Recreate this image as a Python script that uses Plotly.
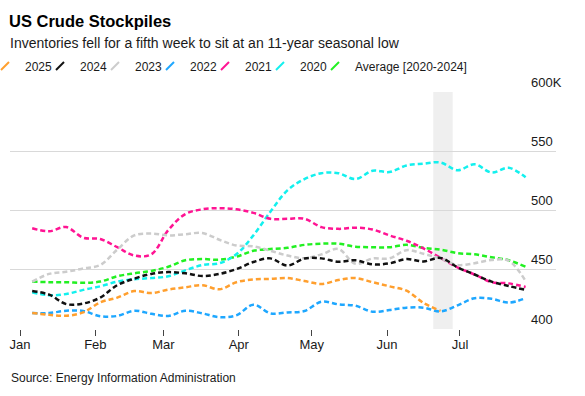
import plotly.graph_objects as go

# Weekly observation dates (seasonal axis, plotted on 2025 calendar)
weeks = ["2025-01-06", "2025-01-13", "2025-01-20", "2025-01-27", "2025-02-03", "2025-02-10",
         "2025-02-17", "2025-02-24", "2025-03-03", "2025-03-10", "2025-03-17", "2025-03-24",
         "2025-03-31", "2025-04-07", "2025-04-14", "2025-04-21", "2025-04-28", "2025-05-05",
         "2025-05-12", "2025-05-19", "2025-05-26", "2025-06-02", "2025-06-09", "2025-06-16",
         "2025-06-23", "2025-06-30", "2025-07-07", "2025-07-14", "2025-07-21", "2025-07-28"]

# US crude inventories (axis in K)
y2025 = [413.5, 412, 411.2, 414, 422.5, 426.5, 432, 430.3, 433.3, 435.2, 437, 433.5, 439.5,
         441.8, 442.3, 443, 440.5, 438, 441.3, 443, 439.5, 436, 432.3, 422, 415.3]
y2024 = [432, 429, 421, 421.5, 426.5, 437, 442.5, 446.5, 448, 447, 444.7, 446.5, 450.5, 456.5,
         459.6, 453.5, 459.5, 459.6, 456.7, 458, 454.5, 455.4, 459, 457, 460, 452, 446, 440,
         436.3, 433]
y2023 = [440, 446.5, 448.3, 451, 454, 467, 479, 480.5, 479, 480, 481, 475.3, 470.5, 469.8, 466,
         462, 459.7, 463, 467.5, 455, 459.5, 459.6, 466.5, 463.5, 459.5, 454, 455.5, 458.2,
         457.6, 440.5]
y2022 = [413.5, 413.5, 415.4, 415.2, 410.8, 411, 415.4, 412.8, 411, 415.4, 413.2, 410, 411.5,
         420.5, 413.2, 414, 415.2, 423, 420.8, 419.6, 414.6, 416, 418, 418, 414.8, 420, 426,
         425.5, 422.3, 426]
y2021 = [485, 482.5, 486, 477, 476, 469, 462, 463, 483.5, 497, 501, 502, 501, 498, 493, 493, 493,
         486, 484.5, 485.5, 484, 479, 474.5, 468, 460, 452, 446, 439.5, 438.5, 435.5]
y2020 = [431, 428.5, 429.5, 433, 436, 440, 442, 443, 444.5, 449.5, 454, 455.5, 463, 479, 499, 517,
         526.5, 531.5, 531.5, 526.5, 533.5, 532.5, 538, 539.5, 540.5, 534, 539, 532, 536, 528]
yavg = [440, 439.5, 439.5, 439, 440, 444.5, 447, 449, 452.5, 458, 459, 458.5, 461, 466, 467.5,
        468.5, 471, 472, 472, 469.5, 469, 469, 471, 468.5, 467, 464, 463, 460.5, 458, 452.5]

series_names = ["2025", "2024", "2023", "2022", "2021", "2020", "Average [2020-2024]"]
series_values = [y2025, y2024, y2023, y2022, y2021, y2020, yavg]
colors = ["#ff9f2e", "#111111", "#cccccc", "#1ea7ff", "#ff1493", "#13f0ee", "#22f022"]

month_ticks = ["2025-01-01", "2025-02-01", "2025-03-01", "2025-04-01", "2025-05-01",
               "2025-06-01", "2025-07-01"]
month_labels = ["Jan", "Feb", "Mar", "Apr", "May", "Jun", "Jul"]
y_ticks = [400, 450, 500, 550, 600]
y_labels = ["400", "450", "500", "550", "600K"]
highlight = ["2025-06-20", "2025-06-28"]

FONT = "Liberation Sans, Arial, sans-serif"
PW, PH = 546, 237  # plot area size in px

fig = go.Figure()

# data lines, drawn from back (average) to front (2025)
for name, vals, col in reversed(list(zip(series_names, series_values, colors))):
    fig.add_trace(go.Scatter(
        x=weeks[:len(vals)], y=vals, mode="lines", name=name,
        line=dict(color=col, width=2.5, dash="5px,3px", shape="spline", smoothing=1.0),
        showlegend=False, hoverinfo="x+y+name"))

# legend entries (slash symbols)
for i, (name, col) in enumerate(zip(series_names, colors)):
    fig.add_trace(go.Scatter(
        x=[None], y=[None], mode="markers", name=name,
        marker=dict(symbol="line-ne", size=8, line=dict(color=col, width=2)),
        legendwidth=(130 if i == len(series_names) - 1 else 10),
        showlegend=True))

fig.add_shape(type="rect", xref="x", yref="paper", x0=highlight[0], x1=highlight[1],
              y0=0, y1=1, fillcolor="#efefef", line=dict(width=0), layer="below")

fig.update_layout(
    width=585, height=396,
    margin=dict(l=10, r=29, t=92, b=67, autoexpand=False),
    paper_bgcolor="white", plot_bgcolor="white",
    font=dict(family=FONT, size=13, color="#1a1a1a"),
    title=dict(text="<b>US Crude Stockpiles</b>", x=9 / 585, xref="container", xanchor="left",
               y=1 - 15 / 396, yref="container", yanchor="top",
               font=dict(family=FONT, size=16.5, color="#000000")),
    showlegend=True,
    legend=dict(orientation="h", x=-25 / PW, xanchor="left", y=(329 - 66) / PH, yanchor="middle",
                entrywidth=10, entrywidthmode="pixels", traceorder="normal",
                font=dict(family=FONT, size=12, color="#1a1a1a"), bgcolor="rgba(0,0,0,0)",
                itemclick=False, itemdoubleclick=False),
    annotations=[
        dict(text="Inventories fell for a fifth week to sit at an 11-year seasonal low",
             xref="paper", yref="paper", x=-2 / PW, y=(329 - 43) / PH, xanchor="left",
             yanchor="middle", showarrow=False, font=dict(family=FONT, size=14, color="#1a1a1a")),
        dict(text="Source: Energy Information Administration",
             xref="paper", yref="paper", x=-1 / PW, y=(329 - 378) / PH, xanchor="left",
             yanchor="middle", showarrow=False, font=dict(family=FONT, size=12, color="#1a1a1a")),
    ],
    xaxis=dict(type="date", range=["2024-12-27 21:00", "2025-08-09 12:00"],
               tickvals=month_ticks, ticktext=month_labels, ticks="outside", ticklen=6,
               tickwidth=1, tickcolor="#444444", showgrid=False, zeroline=False, showline=False,
               automargin=False, ticklabelstandoff=-3,
               tickfont=dict(family=FONT, size=13, color="#1a1a1a")),
    yaxis=dict(range=[400, 600], side="right", tickvals=y_ticks, ticktext=y_labels,
               showgrid=True, gridcolor="#d9d9d9", gridwidth=1, zeroline=False, showline=False,
               ticks="", ticklabelshift=-10, ticklabelstandoff=-26, automargin=False,
               tickfont=dict(family=FONT, size=13, color="#1a1a1a")),
)

# remove the browser's default 8px page margin so the figure sits at the window origin
fig.write_html("out.html", config={"displayModeBar": False},
               post_script="document.body.style.margin='0';")
